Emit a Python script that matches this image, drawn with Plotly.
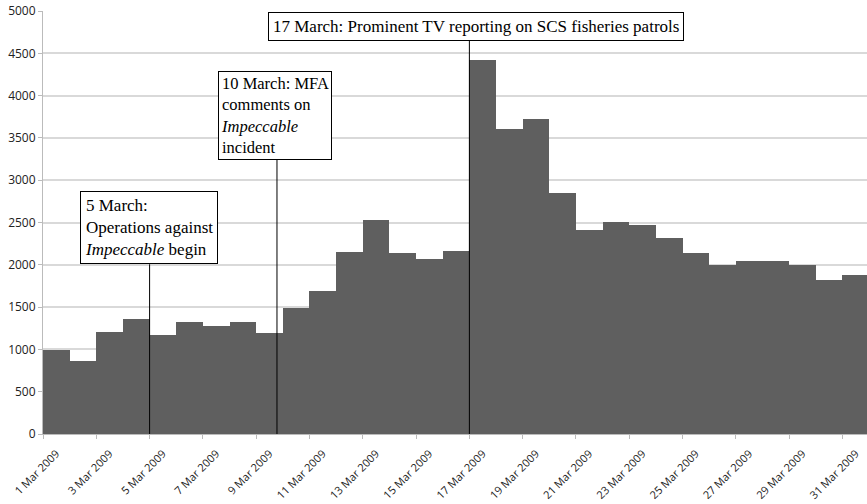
import plotly.graph_objects as go

days = list(range(1, 32))
day_labels = [f"{d} Mar 2009" for d in days]
values = [995, 867, 1209, 1354, 1170, 1319, 1279, 1326, 1190, 1491,
          1692, 2151, 2524, 2139, 2073, 2159, 4417, 3611, 3729, 2854,
          2415, 2501, 2474, 2316, 2144, 2003, 2045, 2045, 2003, 1826, 1877]

# index positions (left edge of each day's bar)
xpos = [d - 1 for d in days]
tick_idx = xpos[::2]
tick_text = day_labels[::2]
label_shift = 0.5

events = [
    dict(text="5 March:<br>Operations against<br><i>Impeccable</i> begin",
         line_x=4.0, box_x=1.39, box_y=2006, size=17, pad=4),
    dict(text="10 March: MFA<br>comments on<br><i>Impeccable</i><br>incident",
         line_x=8.78, box_x=6.57, box_y=3243, size=16.5, pad=2),
    dict(text="17 March: Prominent TV reporting on SCS fisheries patrols",
         line_x=16.0, box_x=8.44, box_y=4645, size=17, pad=4),
]

fig = go.Figure()
fig.add_trace(go.Bar(
    x=xpos, y=values, width=1, offset=0,
    marker=dict(color="#5f5f5f", line=dict(width=0)),
    hoverinfo="skip",
))

for ev in events:
    fig.add_shape(type="line", x0=ev["line_x"], x1=ev["line_x"], y0=0, y1=ev["box_y"],
                  xref="x", yref="y", line=dict(color="black", width=1), layer="above")
    fig.add_annotation(x=ev["box_x"], y=ev["box_y"], xref="x", yref="y",
                       xanchor="left", yanchor="bottom", align="left",
                       text=ev["text"], showarrow=False,
                       font=dict(family="Liberation Serif", size=ev["size"], color="black"),
                       bgcolor="white", bordercolor="black", borderwidth=1,
                       borderpad=ev["pad"])

fig.update_layout(
    width=867, height=504,
    margin=dict(l=43, r=0, t=11, b=70, autoexpand=False),
    paper_bgcolor="white", plot_bgcolor="white",
    showlegend=False,
    bargap=0,
    xaxis=dict(range=[0, 30.92], tickmode="array",
               tickvals=[t + label_shift for t in tick_idx], ticktext=tick_text,
               tickangle=-45, ticks="", ticklabeloverflow="allow", ticklabelstandoff=8,
               minor=dict(tickmode="array", tickvals=tick_idx, ticks="outside",
                          ticklen=4, tickcolor="#bbbbbb", showgrid=False),
               showgrid=False, showline=True, linecolor="#bbbbbb", linewidth=1,
               automargin=False,
               tickfont=dict(family="Open Sans", size=11, color="#222222"), zeroline=False),
    yaxis=dict(range=[0, 5000], dtick=500, tickformat="d", ticks="outside", ticklen=4,
               tickcolor="#bbbbbb", showgrid=True, gridcolor="#d9d9d9", gridwidth=1.5,
               showline=True, linecolor="#bbbbbb", linewidth=1, zeroline=False,
               automargin=False, ticklabeloverflow="allow",
               tickfont=dict(family="Open Sans", size=12, color="#222222")),
)

fig.write_html("out.html", config={"displayModeBar": False},
               post_script="document.body.style.margin='0';")
